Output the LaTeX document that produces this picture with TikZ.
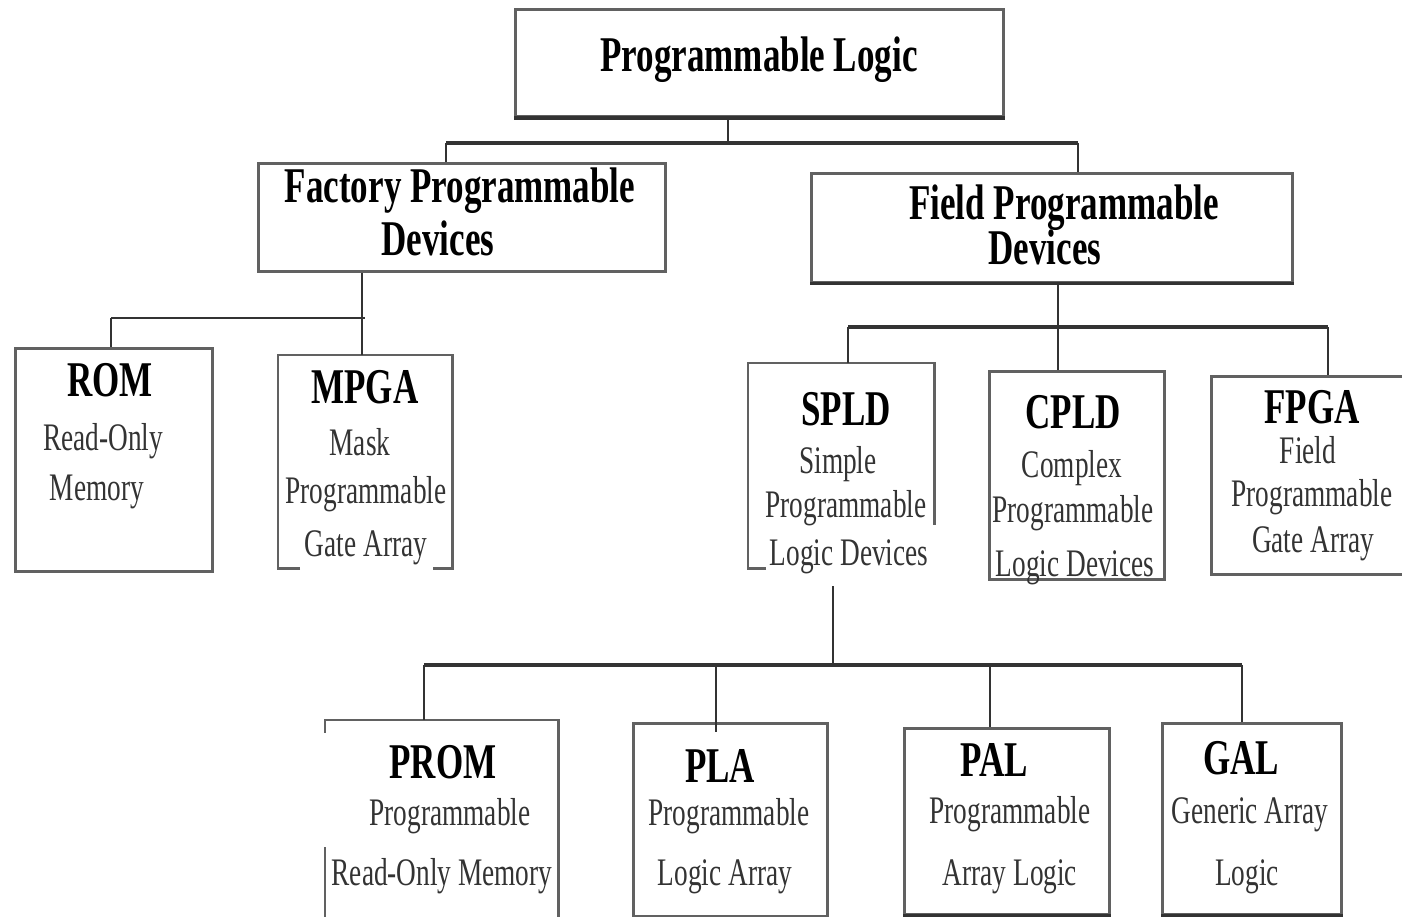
\documentclass[tikz,border=0pt]{standalone}
\usepackage{fontspec}
\setmainfont[FakeStretch=0.7]{Liberation Serif}
\usetikzlibrary{calc}

\tikzset{
  box/.style={draw=black!62, line width=2.6pt, inner sep=0pt, anchor=north west},
  openbox/.style={inner sep=0pt, anchor=north west},
  edge/.style={draw=black!62, line width=2.6pt},
  head/.style={font=\fontsize{50}{56}\selectfont\bfseries, inner sep=0pt, anchor=base},
  desc/.style={font=\fontsize{39}{46}\selectfont, text=black!80, inner sep=0pt, anchor=base},
  link/.style={draw=black!80, line width=1.6pt},
  bar/.style={draw=black!80, line width=3.4pt},
}

\begin{document}
\begin{tikzpicture}[x=1pt, y=-1pt]
\useasboundingbox (0,0) rectangle (1402,917);

% ---- boxes ----
\node[box, minimum width=488pt, minimum height=107pt] (top)  at (514,8)   {};
\node[box, minimum width=407pt, minimum height=108pt] (fac)  at (257,162) {};
\node[box, minimum width=481pt, minimum height=109pt] (fld)  at (810,172) {};
\node[box, minimum width=197pt, minimum height=223pt] (rom)  at (14,347)  {};
\node[openbox, minimum width=174pt, minimum height=213pt] (mpga) at (278,355) {};
\node[openbox, minimum width=186pt, minimum height=205pt] (spld) at (748,363) {};
\node[box, minimum width=175pt, minimum height=208pt] (cpld) at (988,370) {};
\node[box, minimum width=200pt, minimum height=198pt] (fpga) at (1210,375) {};
\node[openbox, minimum width=233pt, minimum height=215pt] (prom) at (325,720) {};
\node[box, minimum width=194pt, minimum height=193pt] (pla)  at (632,722) {};
\node[box, minimum width=205pt, minimum height=186pt] (pal)  at (903,727) {};
\node[box, minimum width=179pt, minimum height=191pt] (gal)  at (1161,722) {};

% darker lower edges
\draw[edge, draw=black!80, line width=4pt] (top.south west) -- (top.south east);
\draw[edge, draw=black!80] (fld.south west) -- (fld.south east);
\draw[edge, draw=black!80] (pal.south west) -- (pal.south east);
\draw[edge, draw=black!80] (gal.south west) -- (gal.south east);

% frames drawn piece by piece where the border is broken
\draw[edge] ($(mpga.south west)+(22,0)$) -- (mpga.south west) -- (mpga.north west)
            -- (mpga.north east) -- (mpga.south east) -- ++(-19,0);
\draw[edge] ($(spld.south west)+(18,0)$) -- (spld.south west) -- (spld.north west)
            -- (spld.north east) -- ($(spld.north east)+(0,162)$);
\draw[edge] (prom.south east) -- (prom.north east) -- (prom.north west) -- ++(0,13);
\draw[edge] ($(prom.north west)+(0,127)$) -- (prom.south west);

% ---- junction points ----
\coordinate (j0)  at (728,143);
\coordinate (j0l) at (446,143);
\coordinate (j0r) at (1078,143);
\coordinate (j1)  at (362,318);
\coordinate (j1l) at (111,318);
\coordinate (j1r) at (365,318);
\coordinate (j2)  at (1058,327);
\coordinate (j2l) at (848,327);
\coordinate (j2r) at (1328,327);
\coordinate (s0)  at (833,586);
\coordinate (j3)  at (833,665);
\coordinate (j3l) at (424,665);
\coordinate (j3a) at (716,665);
\coordinate (j3b) at (990,665);
\coordinate (j3r) at (1242,665);

% ---- connectors ----
\draw[link] (top.south -| j0) -- (j0);
\draw[bar]  (j0l) -- (j0r);
\draw[link] (j0l) -- (j0l |- fac.north);
\draw[link] (j0r) -- (j0r |- fld.north);

\draw[link] (fac.south -| j1) -- (j1);
\draw[link, line width=2.4pt] (j1l) -- (j1r);
\draw[link] (j1l) -- (j1l |- rom.north);
\draw[link] (j1) -- (j1 |- mpga.north);

\draw[link] (fld.south -| j2) -- (j2);
\draw[bar]  (j2l) -- (j2r);
\draw[link] (j2l) -- (j2l |- spld.north);
\draw[link] (j2) -- (j2 |- cpld.north);
\draw[link] (j2r) -- (j2r |- fpga.north);

\draw[link] (s0) -- (j3);
\draw[bar]  (j3l) -- (j3r);
\draw[link] (j3l) -- (j3l |- prom.north);
\draw[link] (j3a) -- ($(j3a |- pla.north)+(0,10)$);
\draw[link] (j3b) -- (j3b |- pal.north);
\draw[link] (j3r) -- (j3r |- gal.north);

% ---- texts ----
\node[head] (t-top) at (759,72) {Programmable Logic};

\node[head] (t-fac1) at (460,203) {Factory Programmable};
\node[head] (t-fac2) at (438,255) {Devices};
\node[head] (t-fld1) at (1064,220) {Field Programmable};
\node[head] (t-fld2) at (1045,265) {Devices};

\node[head] (t-rom)  at (110,396) {ROM};
\node[desc] (t-rom1) at (103,450) {Read-Only};
\node[desc] (t-rom2) at (97,500)  {Memory};

\node[head] (t-mpga)  at (365,403) {MPGA};
\node[desc] (t-mpga1) at (360,455) {Mask};
\node[desc] (t-mpga2) at (366,503) {Programmable};
\node[desc] (t-mpga3) at (366,556) {Gate Array};

\node[head] (t-spld)  at (846,425) {SPLD};
\node[desc] (t-spld1) at (838,473) {Simple};
\node[desc] (t-spld2) at (846,517) {Programmable};
\node[desc] (t-spld3) at (849,565) {Logic Devices};

\node[head] (t-cpld)  at (1073,428) {CPLD};
\node[desc] (t-cpld1) at (1072,477) {Complex};
\node[desc] (t-cpld2) at (1073,522) {Programmable};
\node[desc] (t-cpld3) at (1075,576) {Logic Devices};

\node[head] (t-fpga)  at (1312,423) {FPGA};
\node[desc] (t-fpga1) at (1308,463) {Field};
\node[desc] (t-fpga2) at (1312,506) {Programmable};
\node[desc] (t-fpga3) at (1313,552) {Gate Array};

\node[head] (t-prom)  at (443,778) {PROM};
\node[desc] (t-prom1) at (450,825) {Programmable};
\node[desc] (t-prom2) at (442,885) {Read-Only Memory};

\node[head] (t-pla)  at (720,782) {PLA};
\node[desc] (t-pla1) at (729,825) {Programmable};
\node[desc] (t-pla2) at (725,885) {Logic Array};

\node[head] (t-pal)  at (994,776) {PAL};
\node[desc] (t-pal1) at (1010,823) {Programmable};
\node[desc] (t-pal2) at (1010,885) {Array Logic};

\node[head] (t-gal)  at (1241,774) {GAL};
\node[desc] (t-gal1) at (1250,823) {Generic Array};
\node[desc] (t-gal2) at (1247,885) {Logic};
\end{tikzpicture}
\end{document}
